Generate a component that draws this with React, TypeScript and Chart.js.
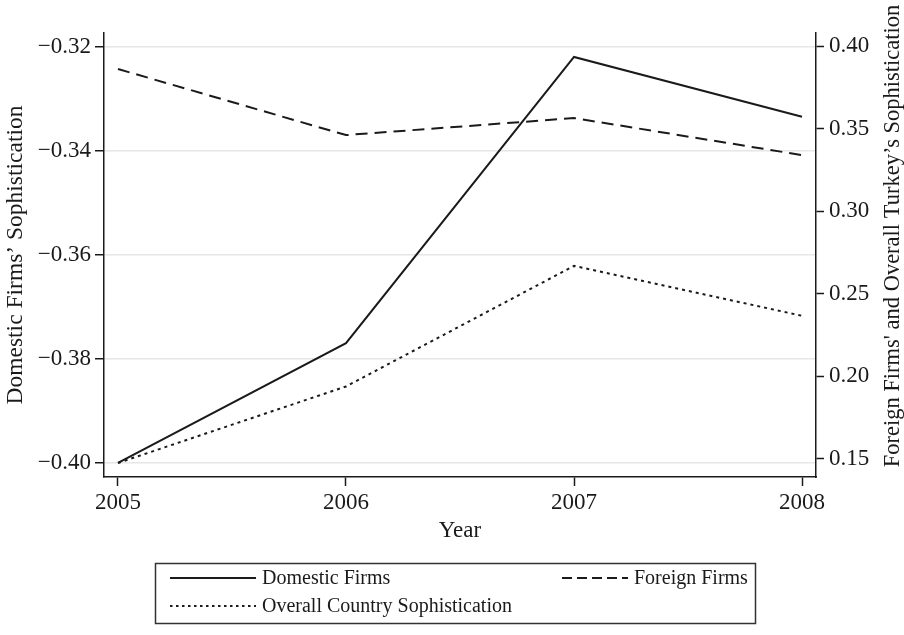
import { useEffect, useRef } from "react";
import { Chart, registerables } from "chart.js";

Chart.register(...registerables);

const years = [2005, 2006, 2007, 2008];
const domesticFirms = [-0.4, -0.377, -0.322, -0.3335];
const foreignFirms = [0.3861, 0.3461, 0.3564, 0.334];
const overallCountry = [0.1476, 0.1939, 0.2669, 0.2367];
const leftTicks = [-0.4, -0.38, -0.36, -0.34, -0.32];
const rightTicks = [0.15, 0.2, 0.25, 0.3, 0.35, 0.4];
const seriesLabels = ["Domestic Firms", "Foreign Firms", "Overall Country Sophistication"];
const xTitle = "Year";
const leftTitle = "Domestic Firms\u2019 Sophistication";
const rightTitle = "Foreign Firms' and Overall Turkey\u2019s Sophistication";

const FONT = '"Liberation Serif", "Times New Roman", serif';
const INK = "#1a1a1a";

const fmt = (v: number) => v.toFixed(2).replace("-", "\u2212");

const overlayPlugin = {
  id: "overlay",
  afterDraw(chart: any) {
    const ctx = chart.ctx as CanvasRenderingContext2D;
    ctx.save();
    // right axis title (reads bottom to top)
    ctx.fillStyle = INK;
    ctx.font = `22.5px ${FONT}`;
    ctx.translate(899, 236);
    ctx.rotate(-Math.PI / 2);
    ctx.textAlign = "center";
    ctx.textBaseline = "alphabetic";
    ctx.fillText(rightTitle, 0, 0);
    ctx.restore();

    // legend
    ctx.save();
    ctx.strokeStyle = "#333";
    ctx.lineWidth = 1.5;
    ctx.strokeRect(155.5, 563.5, 600, 60);
    ctx.font = `20px ${FONT}`;
    ctx.fillStyle = INK;
    ctx.textAlign = "left";
    ctx.textBaseline = "middle";
    const samples = [
      { x0: 170, x1: 256, y: 578, dash: [] as number[], tx: 262 },
      { x0: 562, x1: 628, y: 578, dash: [10, 5], tx: 634 },
      { x0: 170, x1: 256, y: 606, dash: [2.5, 3.5], tx: 262 },
    ];
    samples.forEach((s, i) => {
      ctx.beginPath();
      ctx.strokeStyle = INK;
      ctx.lineWidth = 2;
      ctx.setLineDash(s.dash);
      ctx.moveTo(s.x0, s.y);
      ctx.lineTo(s.x1, s.y);
      ctx.stroke();
      ctx.setLineDash([]);
      ctx.fillText(seriesLabels[i], s.tx, s.y + 1);
    });
    ctx.restore();
  },
};

export default function App() {
  const ref = useRef<HTMLCanvasElement | null>(null);

  useEffect(() => {
    if (!ref.current) return;
    const toPts = (vals: number[]) => years.map((x, i) => ({ x, y: vals[i] }));
    const chart = new Chart(ref.current, {
      type: "line",
      data: {
        datasets: [
          {
            label: seriesLabels[0],
            data: toPts(domesticFirms),
            yAxisID: "yLeft",
            borderColor: INK,
            borderWidth: 2,
            pointRadius: 0,
            tension: 0,
          },
          {
            label: seriesLabels[1],
            data: toPts(foreignFirms),
            yAxisID: "yRight",
            borderColor: INK,
            borderWidth: 2,
            borderDash: [12, 7],
            pointRadius: 0,
            tension: 0,
          },
          {
            label: seriesLabels[2],
            data: toPts(overallCountry),
            yAxisID: "yRight",
            borderColor: INK,
            borderWidth: 2,
            borderDash: [3, 4],
            pointRadius: 0,
            tension: 0,
          },
        ],
      },
      options: {
        animation: false,
        responsive: true,
        maintainAspectRatio: false,
        layout: { padding: { top: 33, left: 0, right: 0, bottom: 0 } },
        plugins: { legend: { display: false }, tooltip: { enabled: false } },
        scales: {
          x: {
            type: "linear",
            position: "bottom",
            min: 2005 - 0.0614,
            max: 2008 + 0.0614,
            bounds: "data",
            afterBuildTicks: (s: any) => {
              s.ticks = years.map((value) => ({ value }));
            },
            afterFit: (s: any) => {
              s.height = 158;
            },
            grid: { drawOnChartArea: false, drawTicks: true, tickLength: 9, tickColor: INK, tickWidth: 1.5 },
            border: { display: true, color: INK, width: 1.5 },
            ticks: { color: INK, font: { family: FONT, size: 23 }, padding: 3, callback: (v: any) => String(v) },
            title: { display: true, text: xTitle, color: INK, font: { family: FONT, size: 23 }, padding: { top: 0, bottom: 90 } },
          },
          yLeft: {
            type: "linear",
            position: "left",
            min: -0.4027,
            max: -0.3174,
            bounds: "data",
            afterBuildTicks: (s: any) => {
              s.ticks = leftTicks.map((value) => ({ value }));
            },
            afterFit: (s: any) => {
              s.width = 104;
            },
            grid: { color: "#e6e6e6", lineWidth: 1.5, drawTicks: true, tickLength: 9, tickColor: INK, tickWidth: 1.5 },
            border: { display: true, color: INK, width: 1.5 },
            ticks: { color: INK, font: { family: FONT, size: 23 }, padding: 4, callback: (v: any) => fmt(Number(v)) },
            title: { display: true, text: leftTitle, color: INK, font: { family: FONT, size: 23.5 }, padding: { top: 2, bottom: 0 } },
          },
          yRight: {
            type: "linear",
            position: "right",
            min: 0.1391,
            max: 0.4079,
            bounds: "data",
            afterBuildTicks: (s: any) => {
              s.ticks = rightTicks.map((value) => ({ value }));
            },
            afterFit: (s: any) => {
              s.width = 88;
            },
            grid: { drawOnChartArea: false, drawTicks: true, tickLength: 8, tickColor: INK, tickWidth: 1.5 },
            border: { display: true, color: INK, width: 1.5 },
            ticks: { color: INK, font: { family: FONT, size: 23 }, padding: 5, callback: (v: any) => fmt(Number(v)) },
            title: { display: false },
          },
        },
      },
      plugins: [overlayPlugin],
    });
    return () => chart.destroy();
  }, []);

  return (
    <div style={{ position: "fixed", left: 0, top: 0, width: 904, height: 635, background: "#fff" }}>
      <canvas ref={ref} />
    </div>
  );
}
